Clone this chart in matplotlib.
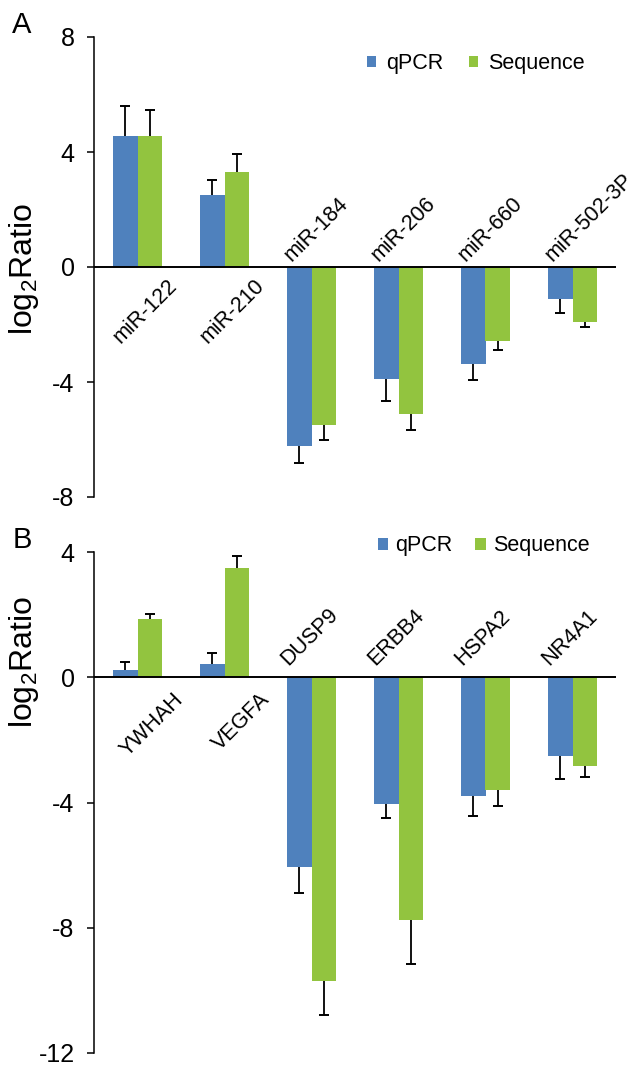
import matplotlib
matplotlib.use("Agg")
import matplotlib.pyplot as plt
from matplotlib.patches import Patch
import matplotlib.transforms as mtransforms
import numpy as np

plt.rcParams['font.family'] = ['Liberation Sans', 'DejaVu Sans']
plt.rcParams['mathtext.default'] = 'regular'

# ---- data ----
mirna = ["miR-122", "miR-210", "miR-184", "miR-206", "miR-660", "miR-502-3P"]
mirna_qpcr = [4.55, 2.49, -6.24, -3.90, -3.37, -1.10]
mirna_qpcr_err = [1.05, 0.55, 0.57, 0.77, 0.57, 0.51]
mirna_seq = [4.55, 3.29, -5.50, -5.10, -2.57, -1.90]
mirna_seq_err = [0.91, 0.63, 0.51, 0.57, 0.32, 0.19]

genes = ["YWHAH", "VEGFA", "DUSP9", "ERBB4", "HSPA2", "NR4A1"]
gene_qpcr = [0.24, 0.42, -6.05, -4.04, -3.78, -2.51]
gene_qpcr_err = [0.24, 0.35, 0.85, 0.47, 0.66, 0.74]
gene_seq = [1.85, 3.50, -9.69, -7.74, -3.60, -2.83]
gene_seq_err = [0.16, 0.36, 1.09, 1.43, 0.52, 0.36]

series_names = ["qPCR", "Sequence"]
yticks_a = [-8, -4, 0, 4, 8]
yticks_b = [-12, -8, -4, 0, 4]

BLUE = "#4F81BD"
GREEN = "#92C43F"

W, H = 642, 1067
fig = plt.figure(figsize=(W / 100, H / 100), dpi=100)


def px_axes(left, top, right, bottom):
    return fig.add_axes([left / W, 1 - bottom / H, (right - left) / W, (bottom - top) / H])


def one_sided_errors(ax, xs, vals, errs):
    vals = np.asarray(vals, float)
    errs = np.asarray(errs, float)
    ends = np.where(vals >= 0, vals + errs, vals - errs)
    ax.vlines(xs, vals, ends, colors='black', lw=1.3, zorder=3)
    ax.plot(xs, ends, linestyle='none', marker='_', markersize=7.5, mew=1.4,
            color='black', zorder=3)


def draw_panel(ax, cats, q, qe, s, se, ylim, yticks, pos_off, neg_off, pos_dx, neg_dx):
    x = np.arange(len(cats))
    w = 0.28
    ax.bar(x - w / 2, q, width=w, color=BLUE, zorder=2)
    ax.bar(x + w / 2, s, width=w, color=GREEN, zorder=2)
    one_sided_errors(ax, x - w / 2, q, qe)
    one_sided_errors(ax, x + w / 2, s, se)
    ax.axhline(0, color='black', lw=1.4, zorder=4)
    ax.set_xlim(-0.5, len(cats) - 0.5)
    ax.set_ylim(*ylim)
    ax.set_yticks(yticks)
    ax.set_yticklabels([str(t) for t in yticks], fontsize=18)
    ax.tick_params(axis='y', length=5, width=1.1, pad=9, direction='out')
    ax.set_xticks([])
    for sp in ['top', 'right', 'bottom']:
        ax.spines[sp].set_visible(False)
    ax.spines['left'].set_linewidth(1.1)
    for i, c in enumerate(cats):
        v = max(q[i], s[i])
        if v > 0:
            tr = ax.transData + mtransforms.ScaledTranslation(0, -pos_off / 100, fig.dpi_scale_trans)
            ax.text(i + pos_dx, 0, c, rotation=45, rotation_mode='anchor', ha='right', va='top',
                    fontsize=15.5, transform=tr)
        else:
            tr = ax.transData + mtransforms.ScaledTranslation(0, neg_off / 100, fig.dpi_scale_trans)
            ax.text(i + neg_dx, 0, c, rotation=45, rotation_mode='anchor', ha='left', va='baseline',
                    fontsize=15.5, transform=tr)


axA = px_axes(94, 37, 616, 497)
draw_panel(axA, mirna, mirna_qpcr, mirna_qpcr_err, mirna_seq, mirna_seq_err,
           (-8, 8), yticks_a, pos_off=8, neg_off=5, pos_dx=0.34, neg_dx=-0.23)
axB = px_axes(94, 552, 616, 1053)
draw_panel(axB, genes, gene_qpcr, gene_qpcr_err, gene_seq, gene_seq_err,
           (-12, 4), yticks_b, pos_off=12, neg_off=11, pos_dx=0.40, neg_dx=-0.27)

# y labels
fig.text(24 / W, 1 - 269 / H, 'log$_2$Ratio', rotation=90, ha='center', va='center', fontsize=23)
fig.text(24 / W, 1 - 662 / H, 'log$_2$Ratio', rotation=90, ha='center', va='center', fontsize=23)

# panel letters
fig.text(22 / W, 1 - 25 / H, 'A', ha='center', va='center', fontsize=21)
fig.text(22 / W, 1 - 540 / H, 'B', ha='center', va='center', fontsize=21)

# legends
handles = [Patch(facecolor=BLUE), Patch(facecolor=GREEN)]
fig.legend(handles, series_names, loc='center left', bbox_to_anchor=(367 / W, 1 - 64 / H),
           ncol=2, frameon=False, fontsize=15.5, handlelength=0.43, handleheight=0.43,
           handletextpad=0.45, columnspacing=1.2, borderpad=0, borderaxespad=0)
fig.legend(handles, series_names, loc='center left', bbox_to_anchor=(378 / W, 1 - 546 / H),
           ncol=2, frameon=False, fontsize=15.5, handlelength=0.48, handleheight=0.48,
           handletextpad=0.33, columnspacing=1.05, borderpad=0, borderaxespad=0)

fig.savefig('out.png', dpi=100)
